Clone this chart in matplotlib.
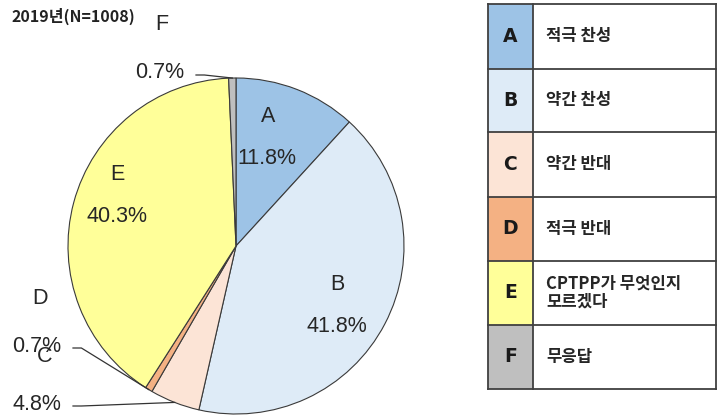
import matplotlib.pyplot as plt
from matplotlib.patches import Rectangle
import numpy as np

plt.rcParams['font.family'] = ['Liberation Sans', 'DejaVu Sans']

# survey shares, 2019 (N=1008)
codes = ['A', 'B', 'C', 'D', 'E', 'F']
shares = [11.8, 41.8, 4.8, 0.7, 40.3, 0.7]
answers = ['적극 찬성', '약간 찬성', '약간 반대', '적극 반대',
           'CPTPP가 무엇인지\n모르겠다', '무응답']
colors = ['#9DC3E6', '#DEEBF7', '#FCE4D6', '#F4B183', '#FFFF99', '#BFBFBF']

W, H = 717, 420
fig = plt.figure(figsize=(W / 100, H / 100), dpi=100)

# pie: centre (236, 246) px, radius 168 px
cx, cy, r = 236, 246, 168
ax = fig.add_axes([(cx - r) / W, (H - cy - r) / H, 2 * r / W, 2 * r / H])
wedges, _ = ax.pie(shares, colors=colors, startangle=90, counterclock=False,
                   radius=1.0,
                   wedgeprops=dict(edgecolor='#3a3a3a', linewidth=0.8))
ax.set_xlim(-1, 1)
ax.set_ylim(-1, 1)
ax.set_aspect('equal')
ax.axis('off')


def px(x, y):
    # pixel position -> pie data coords
    return (x - cx) / r, (cy - y) / r


lab_kw = dict(fontsize=15.5, color='#262626', ha='center', va='center', clip_on=False)

# labels inside the big wedges
inside = {'A': ((268, 117), (267, 158)),
          'B': ((337, 285), (337, 327)),
          'E': ((117, 175), (117, 217))}
for code, (p1, p2) in inside.items():
    i = codes.index(code)
    ax.text(*px(*p1), code, **lab_kw)
    ax.text(*px(*p2), f'{shares[i]}%', **lab_kw)

# outside labels with leader lines for the thin wedges
outside = {'F': ((162, 25), (160, 73), 194),
           'D': ((40, 298), (37, 346), 71),
           'C': ((45, 357), (37, 404), 71)}
total = sum(shares)
cum = np.cumsum([0] + shares)
for code, (p1, p2, xr) in outside.items():
    i = codes.index(code)
    ax.text(*px(*p1), code, **lab_kw)
    ax.text(*px(*p2), f'{shares[i]}%', **lab_kw)
    mid = (cum[i] + shares[i] / 2) / total * 2 * np.pi
    ex, ey = np.sin(mid), np.cos(mid)
    x0, y0 = px(xr + 2, p2[1] + 2)
    ax.plot([x0, x0 + 0.05, ex], [y0, y0, ey], color='#333333', lw=0.9,
            clip_on=False)

fig.text(12 / W, 1 - 16 / H, '2019년(N=1008)', fontsize=11.5, fontweight='bold',
         family=['Noto Sans CJK KR', 'DejaVu Sans'], color='#222222',
         ha='left', va='center')

# legend table on the right
left, split, right = 488, 533, 716
rows = [4, 69, 132, 197, 261, 325, 389]
for i, code in enumerate(codes):
    top, bot = rows[i], rows[i + 1]
    fig.add_artist(Rectangle((left / W, 1 - bot / H), (split - left) / W,
                             (bot - top) / H, transform=fig.transFigure,
                             facecolor=colors[i], edgecolor='none'))
    yc = 1 - (top + bot) / 2 / H
    fig.text((left + split) / 2 / W, yc, code, fontsize=13.5, fontweight='bold',
             family=['DejaVu Sans'], ha='center', va='center', color='#1a1a1a')
    fig.text(546 / W, yc, answers[i], fontsize=12, fontweight='bold',
             family=['Noto Sans CJK KR', 'DejaVu Sans'], color='#262626',
             ha='left', va='center', linespacing=1.0)

line_c = '#404040'
for y in rows:
    fig.add_artist(plt.Line2D([left / W, right / W], [1 - y / H, 1 - y / H],
                              transform=fig.transFigure, color=line_c, lw=1.3))
for x in (left, split, right):
    fig.add_artist(plt.Line2D([x / W, x / W], [1 - rows[0] / H, 1 - rows[-1] / H],
                              transform=fig.transFigure, color=line_c, lw=1.3))

fig.savefig('out.png', dpi=100, facecolor='white')
